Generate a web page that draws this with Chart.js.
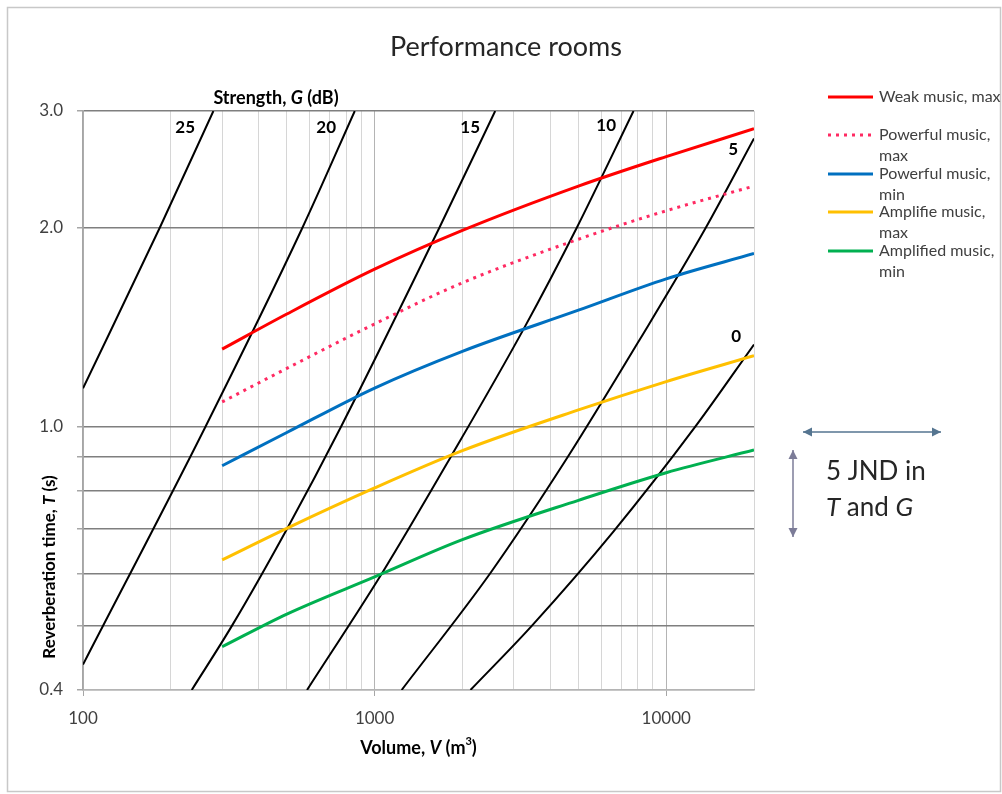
<!DOCTYPE html>
<html>
<head>
<meta charset="utf-8">
<title>Performance rooms</title>
<script src="https://cdn.jsdelivr.net/npm/chart.js@4.4.0/dist/chart.umd.min.js"></script>
<style>
  html, body { margin: 0; padding: 0; background: #fff; }
  #wrap { position: relative; width: 1002px; height: 794px; }
</style>
</head>
<body>
<div id="wrap"><canvas id="chart" width="1002" height="794"></canvas></div>
<script>
// Music curves, all read at the same volumes (m3)
var musicVolumes = [300, 500, 1000, 2000, 5000, 10000, 20000];
var weakMax      = [1.31, 1.48, 1.73, 1.98, 2.31, 2.56, 2.82];
var powerfulMax  = [1.09, 1.225, 1.43, 1.65, 1.92, 2.12, 2.31];
var powerfulMin  = [0.873, 0.98, 1.144, 1.30, 1.50, 1.673, 1.827];
var amplifiedMax = [0.629, 0.702, 0.808, 0.92, 1.06, 1.17, 1.28];
var amplifiedMin = [0.465, 0.521, 0.593, 0.675, 0.774, 0.852, 0.922];

// Constant strength lines, G in dB (volume, reverberation time)
var g25V = [100, 184, 280];
var g25T = [1.143, 2.005, 3.0];
var g20V = [100, 263, 566, 855];
var g20T = [0.437, 1.0, 2.0, 3.0];
var g15V = [236, 324, 500, 767, 1669, 2591];
var g15T = [0.4, 0.5, 0.7, 1.0, 2.0, 3.0];
var g10V = [586.5, 1059, 1816, 3239, 4940, 7725];
var g10T = [0.4, 0.6, 0.897, 1.403, 2.0, 3.0];
var g5V  = [1238, 2489, 4560, 8145, 13620, 20000];
var g5T  = [0.4, 0.6, 0.895, 1.358, 1.993, 2.727];
var g0V  = [2132, 3459, 6590, 12580, 20000];
var g0T  = [0.4, 0.5, 0.694, 1.0, 1.331];

// Where the G labels sit (volume, time)
var gLabels = ['25', '20', '15', '10', '5', '0'];
var gLabelV = [224, 682, 2126, 6223, 16980, 17390];
var gLabelT = [2.83, 2.83, 2.83, 2.85, 2.62, 1.368];

// Axis ticks / gridlines
var xTicks = [100, 200, 300, 400, 500, 600, 700, 800, 900,
              1000, 2000, 3000, 4000, 5000, 6000, 7000, 8000, 9000,
              10000, 20000];
var xLabelled = [100, 1000, 10000];
var yTicks = [0.4, 0.5, 0.6, 0.7, 0.8, 0.9, 1, 2, 3];
var yLabelled = [0.4, 1, 2, 3];

var FONT = 'Lato, "Open Sans", sans-serif';

function pts(xs, ys) {
    return xs.map(function(x, i) { return { x: x, y: ys[i] }; });
}

function musicSet(label, values, color, dash) {
    return {
        label: label,
        data: pts(musicVolumes, values),
        borderColor: color,
        borderWidth: 3,
        borderDash: dash,
        pointRadius: 0,
        cubicInterpolationMode: 'monotone',
        fill: false
    };
}

function gSet(label, xs, ys) {
    return {
        label: 'G ' + label,
        data: pts(xs, ys),
        borderColor: '#000000',
        borderWidth: 2,
        pointRadius: 0,
        cubicInterpolationMode: 'monotone',
        fill: false
    };
}

var legendItems = [
    { lines: ['Weak music, max'], color: '#ff0000', dash: [] },
    { lines: ['Powerful music,', 'max'], color: '#ff2a62', dash: [3, 5] },
    { lines: ['Powerful music,', 'min'], color: '#0070c0', dash: [] },
    { lines: ['Amplifie music,', 'max'], color: '#ffc000', dash: [] },
    { lines: ['Amplified music,', 'min'], color: '#00b050', dash: [] }
];

function fontFor(style, size, weight) {
    var s = style === 'sup' ? Math.round(size * 0.62) : size;
    return (style === 'i' ? 'italic ' : '') + weight + ' ' + s + 'px ' + FONT;
}

// draw text made of pieces: [text, style] with style '', 'i' or 'sup'
function richText(c, parts, x, y, size, weight, color, align) {
    var total = 0;
    parts.forEach(function(p) {
        c.font = fontFor(p[1], size, weight);
        total += c.measureText(p[0]).width;
    });
    var cx = align === 'center' ? x - total / 2 : x;
    c.fillStyle = color;
    c.textAlign = 'left';
    c.textBaseline = 'middle';
    parts.forEach(function(p) {
        c.font = fontFor(p[1], size, weight);
        c.fillText(p[0], cx, p[1] === 'sup' ? y - size * 0.35 : y);
        cx += c.measureText(p[0]).width;
    });
}

function arrowHead(c, x, y, ang, color) {
    c.save();
    c.translate(x, y);
    c.rotate(ang);
    c.beginPath();
    c.moveTo(0, 0);
    c.lineTo(-9, -4.5);
    c.lineTo(-9, 4.5);
    c.closePath();
    c.fillStyle = color;
    c.fill();
    c.restore();
}

function doubleArrow(c, x1, y1, x2, y2, color) {
    var ang = Math.atan2(y2 - y1, x2 - x1);
    c.strokeStyle = color;
    c.lineWidth = 1.5;
    c.beginPath();
    c.moveTo(x1, y1);
    c.lineTo(x2, y2);
    c.stroke();
    arrowHead(c, x2, y2, ang, color);
    arrowHead(c, x1, y1, ang + Math.PI, color);
}

var decorPlugin = {
    id: 'decor',
    afterDraw: function(chart) {
        var c = chart.ctx;
        var area = chart.chartArea;
        var xs = chart.scales.x;
        var ys = chart.scales.y;
        c.save();

        // outer frame
        c.strokeStyle = '#c8c8c8';
        c.lineWidth = 1.5;
        c.strokeRect(7.5, 7.5, 993, 784);

        // title
        c.font = '27px ' + FONT;
        c.fillStyle = '#262626';
        c.textAlign = 'center';
        c.textBaseline = 'middle';
        c.fillText('Performance rooms', 506, 47);

        // strength heading
        richText(c, [['Strength, ', ''], ['G', 'i'], [' (dB)', '']],
            area.left + 193, area.top - 13, 18, 'bold', '#000', 'center');

        // G labels
        c.font = 'bold 17px ' + FONT;
        c.fillStyle = '#000';
        c.textAlign = 'center';
        c.textBaseline = 'middle';
        for (var i = 0; i < gLabels.length; i++) {
            c.fillText(gLabels[i], xs.getPixelForValue(gLabelV[i]), ys.getPixelForValue(gLabelT[i]));
        }

        // axis titles
        richText(c, [['Volume, ', ''], ['V', 'i'], [' (m', ''], ['3', 'sup'], [')', '']],
            (area.left + area.right) / 2, 748, 18, 'bold', '#000', 'center');
        c.save();
        c.translate(50, 567);
        c.rotate(-Math.PI / 2);
        richText(c, [['Reverberation time, ', ''], ['T', 'i'], [' (s)', '']],
            0, 0, 17, 'bold', '#000', 'center');
        c.restore();

        // legend
        var ly = [97, 135, 174, 212, 251];
        legendItems.forEach(function(item, k) {
            var y = ly[k];
            c.strokeStyle = item.color;
            c.lineWidth = 3;
            c.setLineDash(item.dash);
            c.beginPath();
            c.moveTo(area.right + 74, y);
            c.lineTo(area.right + 119, y);
            c.stroke();
            c.setLineDash([]);
            c.font = '16px ' + FONT;
            c.fillStyle = '#404040';
            c.textAlign = 'left';
            c.textBaseline = 'middle';
            item.lines.forEach(function(t, j) {
                c.fillText(t, area.right + 125, y + j * 21);
            });
        });

        // 5 JND annotation
        doubleArrow(c, area.right + 49, 432, area.right + 187, 432, '#557590');
        doubleArrow(c, area.right + 39, 450, area.right + 39, 537, '#7c7c98');
        richText(c, [['5 JND in', '']], area.right + 72, 472, 26, 'normal', '#262626', 'left');
        richText(c, [['T', 'i'], [' and ', ''], ['G', 'i']], area.right + 72, 508, 26, 'normal', '#262626', 'left');

        c.restore();
    }
};

var chart = new Chart(document.getElementById('chart').getContext('2d'), {
    type: 'line',
    data: {
        datasets: [
            musicSet('Weak music, max', weakMax, '#ff0000', []),
            musicSet('Powerful music, max', powerfulMax, '#ff2a62', [3, 5]),
            musicSet('Powerful music, min', powerfulMin, '#0070c0', []),
            musicSet('Amplifie music, max', amplifiedMax, '#ffc000', []),
            musicSet('Amplified music, min', amplifiedMin, '#00b050', []),
            gSet('25', g25V, g25T),
            gSet('20', g20V, g20T),
            gSet('15', g15V, g15T),
            gSet('10', g10V, g10T),
            gSet('5', g5V, g5T),
            gSet('0', g0V, g0T)
        ]
    },
    options: {
        responsive: false,
        animation: false,
        layout: { padding: { left: 0, right: 248, top: 111, bottom: 0 } },
        plugins: {
            legend: { display: false },
            title: { display: false },
            tooltip: { enabled: false }
        },
        scales: {
            x: {
                type: 'logarithmic',
                min: 100,
                max: 20000,
                afterFit: function(scale) { scale.height = 104; },
                afterBuildTicks: function(scale) {
                    scale.ticks = xTicks.map(function(v) { return { value: v }; });
                },
                ticks: {
                    autoSkip: false,
                    maxRotation: 0,
                    padding: 12,
                    color: '#404040',
                    font: { family: FONT, size: 17 },
                    callback: function(v) { return xLabelled.indexOf(v) >= 0 ? String(v) : ''; }
                },
                grid: {
                    color: function(ctx) {
                        var v = ctx.tick ? ctx.tick.value : 0;
                        return xLabelled.indexOf(v) >= 0 ? '#b4b4b4' : '#d6d6d6';
                    },
                    tickColor: function(ctx) {
                        var v = ctx.tick ? ctx.tick.value : 0;
                        return xLabelled.indexOf(v) >= 0 ? '#a6a6a6' : 'rgba(0,0,0,0)';
                    },
                    tickLength: 6,
                    lineWidth: 1
                },
                border: { display: true, color: '#b4b4b4', width: 1.5 }
            },
            y: {
                type: 'logarithmic',
                min: 0.4,
                max: 3,
                afterFit: function(scale) { scale.width = 83; },
                afterBuildTicks: function(scale) {
                    scale.ticks = yTicks.map(function(v) { return { value: v }; });
                },
                ticks: {
                    autoSkip: false,
                    padding: 14,
                    color: '#404040',
                    font: { family: FONT, size: 17 },
                    callback: function(v) { return yLabelled.indexOf(v) >= 0 ? v.toFixed(1) : ''; }
                },
                grid: {
                    color: function(ctx) {
                        var v = ctx.tick ? ctx.tick.value : 0;
                        return v === 0.4 ? '#b4b4b4' : '#7f7f7f';
                    },
                    tickColor: '#a6a6a6',
                    tickLength: 6,
                    lineWidth: 1.5
                },
                border: { display: true, color: '#a6a6a6', width: 1.5 }
            }
        }
    },
    plugins: [decorPlugin]
});
</script>
</body>
</html>
